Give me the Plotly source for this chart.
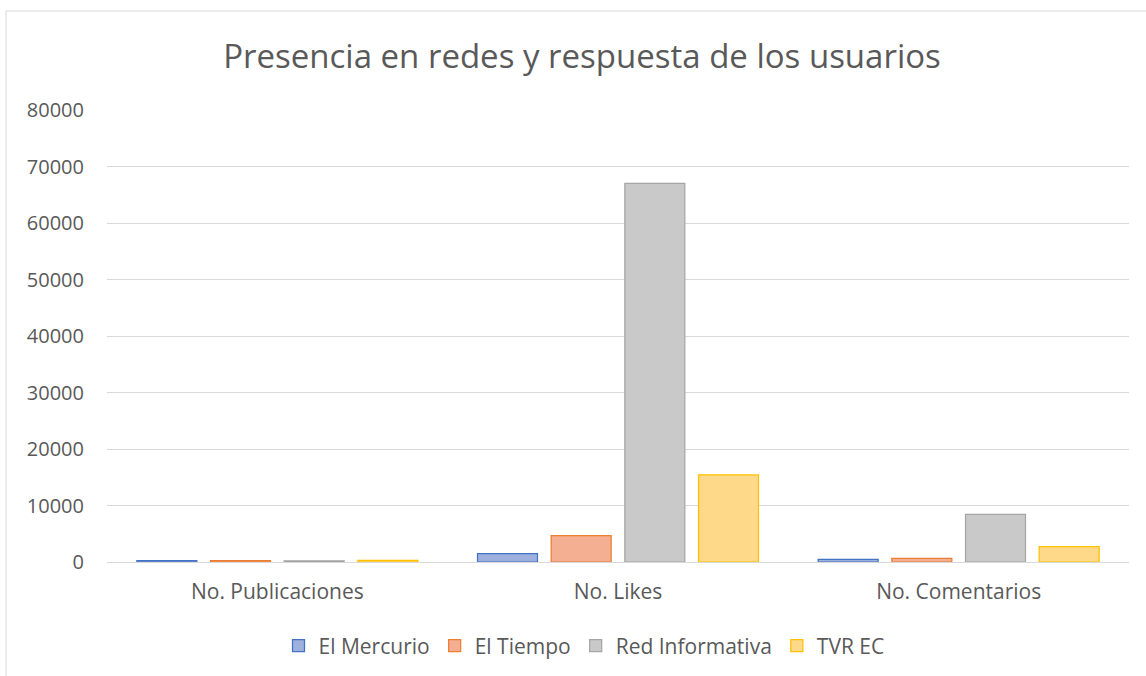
import plotly.graph_objects as go

categories = ["No. Publicaciones", "No. Likes", "No. Comentarios"]
series_names = ["El Mercurio", "El Tiempo", "Red Informativa", "TVR EC"]
el_mercurio = [250, 1500, 450]
el_tiempo = [250, 4650, 650]
red_informativa = [200, 67000, 8450]
tvr_ec = [300, 15400, 2700]
y_ticks = [0, 10000, 20000, 30000, 40000, 50000, 60000, 70000, 80000]

fills = ["#9eb1de", "#f4ae91", "#c9c9c9", "#fed98a"]
lines = ["#4472c4", "#ed7d31", "#a5a5a5", "#ffc000"]

fig = go.Figure()
for name, vals, fc, lc in zip(series_names, [el_mercurio, el_tiempo, red_informativa, tvr_ec], fills, lines):
    fig.add_trace(go.Bar(
        x=categories, y=vals, name=name,
        marker=dict(color=fc, line=dict(color=lc, width=1.25)),
    ))

L, R, T, B = 107, 17, 110, 114
W, H = 1146, 676
pw, ph = W - L - R, H - T - B

def px_x(px):
    return (px - L) / pw

def px_y(py):
    return (H - B - py) / ph

fig.add_shape(type="rect", xref="paper", yref="paper",
              x0=px_x(6), x1=px_x(1160), y0=px_y(690), y1=px_y(11),
              line=dict(color="#d9d9d9", width=1), fillcolor="rgba(0,0,0,0)", layer="below")

font_family = "Open Sans, Noto Sans, sans-serif"
fig.update_layout(
    width=W, height=H,
    margin=dict(l=L, r=R, t=T, b=B, autoexpand=False),
    paper_bgcolor="white", plot_bgcolor="white",
    barmode="group", bargap=0.135, bargroupgap=0.186,
    title=dict(text="Presencia en redes y respuesta de los usuarios",
               x=(582) / W, xanchor="center", y=1 - 56 / H, yanchor="middle",
               font=dict(family=font_family, size=33, color="#595959")),
    font=dict(family=font_family, size=20, color="#595959"),
    legend=dict(orientation="h", x=px_x(584), xanchor="center", y=px_y(646), yanchor="middle",
                font=dict(size=21, color="#595959"), itemwidth=30, traceorder="normal"),
    showlegend=True,
)
fig.update_yaxes(range=[0, 80000], tickvals=y_ticks, ticktext=[str(v) for v in y_ticks],
                 showgrid=True, gridcolor="#d9d9d9", gridwidth=1, zeroline=False,
                 showline=False, ticks="", ticklabelstandoff=22, automargin=False,
                 tickfont=dict(size=20, color="#595959"))
fig.update_xaxes(showline=True, linecolor="#d9d9d9", linewidth=1, ticks="",
                 showgrid=False, tickfont=dict(size=21, color="#595959"),
                 ticklabelstandoff=11, automargin=False)

fig.write_html("out.html", config={"displayModeBar": False},
               post_script="document.body.style.margin='0';document.body.style.padding='0';")
